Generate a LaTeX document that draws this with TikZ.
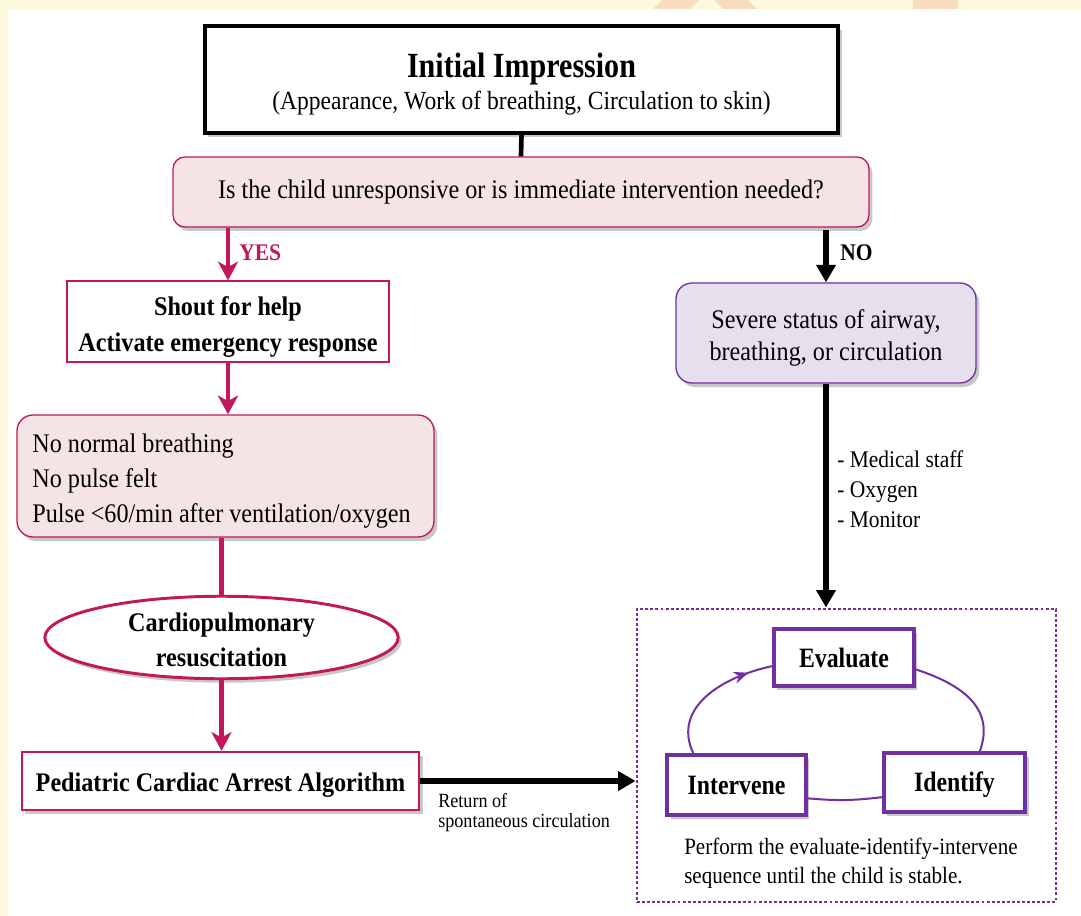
\documentclass[tikz,border=0pt]{standalone}
\usepackage{fontspec}
\setmainfont{Liberation Serif}[FakeStretch=0.9]
\newfontfamily\narrowfont{Liberation Serif}[FakeStretch=0.85]
\usetikzlibrary{arrows.meta,shapes.geometric,shadows,decorations.markings}

\definecolor{crimson}{HTML}{C2185B}
\definecolor{pinkfill}{HTML}{F4E4E6}
\definecolor{purp}{HTML}{7030A0}
\definecolor{lavfill}{HTML}{E6DFEE}
\definecolor{pagebg}{HTML}{FCF9DF}
\definecolor{markbg}{HTML}{F7DDBC}

\tikzset{
  shade/.style={drop shadow={shadow xshift=2.5pt, shadow yshift=-3pt, opacity=.3, fill=black!70}},
  txt/.style={font=\fontsize{20.15}{27}\selectfont, align=center, inner sep=0pt},
  titlebox/.style={draw, line width=3pt, fill=white, shade, align=center,
    minimum width=475pt, minimum height=80pt, font=\fontsize{19.6}{23}\selectfont},
  askbox/.style={draw=crimson, line width=1pt, fill=pinkfill, rounded corners=9pt, shade,
    minimum width=522pt, minimum height=52.5pt, font=\fontsize{20.15}{24}\selectfont},
  helpbox/.style={draw=crimson, line width=1pt, fill=white, align=center,
    minimum width=241.5pt, minimum height=60.75pt, font=\fontsize{20.15}{27}\selectfont\bfseries},
  signbox/.style={draw=crimson, line width=1pt, fill=pinkfill, rounded corners=12pt, shade,
    minimum width=312.75pt, minimum height=91.5pt, align=left,
    font=\fontsize{20.15}{26}\selectfont},
  cprnode/.style={ellipse, draw=crimson, line width=2.2pt, fill=white, shade, inner sep=0pt,
    minimum width=265pt, minimum height=59pt, align=center, font=\fontsize{20.15}{26}\selectfont\bfseries},
  palsbox/.style={draw=crimson, line width=1.8pt, fill=white, shade, text height=19.6pt, text depth=4.6pt,
    minimum width=298pt, minimum height=43.5pt, font=\fontsize{20.15}{24}\selectfont\bfseries},
  abcbox/.style={draw=purp, line width=1pt, fill=lavfill, rounded corners=12pt, shade, align=center,
    minimum width=225pt, minimum height=75pt, font=\fontsize{20.15}{24}\selectfont},
  loopbox/.style={draw=purp, line width=3pt, fill=white, shade,
    font=\narrowfont\fontsize{21}{24}\selectfont\bfseries},
  framebox/.style={draw=purp, line width=2.2pt, dash pattern=on 2.2pt off 1.6pt,
    minimum width=314.25pt, minimum height=219.75pt},
  redarrow/.style={draw=crimson, line width=3.5pt, -{Stealth[length=14pt, width=15pt, inset=4pt]}},
  redline/.style={draw=crimson, line width=3.5pt},
  blackarrow/.style={draw=black, line width=3.8pt, -{Triangle[length=13pt, width=14pt]}},
  loopline/.style={draw=purp, line width=1.5pt},
}

\begin{document}
\begin{tikzpicture}[x=0.75pt, y=-0.75pt]
\useasboundingbox (0,0) rectangle (1081,916);
\fill[pagebg] (0,0) rectangle (1081,916);
\fill[markbg] (653,9) -- (690,9) -- (699,0) -- (662,0) -- cycle;
\fill[markbg] (723,9) -- (757,9) -- (748,0) -- (714,0) -- cycle;
\fill[markbg] (913,0) rectangle (958,9);
\fill[white] (8,9) rectangle (1081,916);

% left branch
\node [titlebox] (impression) at (521.5,79.5) {\rule{0pt}{25pt}{\narrowfont\fontsize{26.5}{30}\selectfont\bfseries Initial Impression}\\[1pt] (Appearance, Work of breathing, Circulation to skin)};
\node [askbox] (ask) at (521,192) {Is the child unresponsive or is immediate intervention needed?};
\node [helpbox] (shout) at (228,321.5) {\rule{0pt}{21.7pt}Shout for help\\Activate emergency response};
\node [signbox] (signs) at (225.5,476) {\rule{0pt}{21.7pt}No normal breathing\\No pulse felt\\Pulse <60/min after ventilation/oxygen\hspace*{6pt}};
\node [cprnode] (cpr) at (221.5,637.5) {\rule{0pt}{17.5pt}Cardiopulmonary\\resuscitation};
\node [palsbox] (pals) at (220.5,781) {Pediatric Cardiac Arrest Algorithm};

% right branch
\node [abcbox] (abc) at (826,333) {\rule{0pt}{21.7pt}Severe status of airway,\\breathing, or circulation};
\node [framebox] (frame) at (846.5,755.5) {};
\node [loopbox, minimum width=105pt, minimum height=42.75pt] (evaluate) at (844,657.5) {Evaluate};
\node [loopbox, minimum width=104pt, minimum height=45pt] (intervene) at (736.5,785) {Intervene};
\node [loopbox, minimum width=106pt, minimum height=44pt, text height=17.5pt] (identify) at (954.5,782.5) {Identify};

% labels
\node [txt, text=crimson, font=\fontsize{17.9}{20}\selectfont\bfseries, anchor=west] (yes) at (239,253) {YES};
\node [txt, font=\fontsize{17.9}{20}\selectfont\bfseries, anchor=west] (no) at (840,253) {NO};
\node [txt, align=left, anchor=west, font=\fontsize{17.9}{22.5}\selectfont] (needs) at (837,489) {- Medical staff\\- Oxygen\\- Monitor};
\node [txt, align=left, anchor=west, font=\fontsize{15.1}{15}\selectfont] (rosc) at (438,813) {Return of\\spontaneous circulation};
\node [txt, align=left, anchor=west, font=\fontsize{17.55}{21.75}\selectfont] (perform) at (684,863) {Perform the evaluate-identify-intervene\\sequence until the child is stable.};

% connectors
\draw [line width=3.5pt] (impression.south) -- (ask.north);
\draw [redarrow] (ask.south -| shout.north) -- (shout.north);
\draw [blackarrow] ([yshift=-2pt]ask.south -| abc.north) -- (abc.north);
\draw [redarrow] (shout.south) -- (shout.south |- signs.north);
\draw [redline] (signs.south -| cpr.north) -- (cpr.north);
\draw [redarrow] (cpr.south) -- (cpr.south |- pals.north);
\draw [blackarrow] (pals.east) -- (pals.east -| frame.west);
\draw [blackarrow] (abc.south) -- (abc.south |- frame.north);

% evaluate-identify-intervene cycle
\draw [loopline, postaction={decorate}, decoration={markings, mark=at position 0.82 with {\arrow{Stealth[length=11pt, width=9pt]}}}]
  ([xshift=21pt]intervene.north west) to[out=115, in=192, looseness=1.1] ([yshift=-6.5pt]evaluate.west);
\draw [loopline] ([yshift=-9pt]evaluate.east) to[out=-18, in=70, looseness=1.15] ([xshift=19pt]identify.north);
\draw [loopline] ([yshift=-11pt]identify.west) to[bend left=6] ([yshift=-10pt]intervene.east);
\end{tikzpicture}
\end{document}
